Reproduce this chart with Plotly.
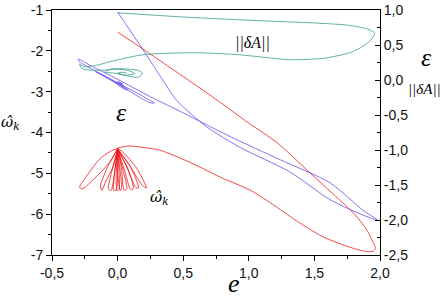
import plotly.graph_objects as go

# ---------------- data ----------------
# omega_k (left axis) main trajectory
red_e = [0.0, 0.2, 0.4, 0.6, 0.76, 1.0, 1.22, 1.45, 1.62, 1.80, 1.90, 1.95, 1.965, 1.95,
         1.90, 1.77, 1.57, 1.39, 1.20, 1.01, 0.80, 0.63, 0.48, 0.32, 0.18, 0.08, 0.0]
red_w = [-1.54, -1.97, -2.41, -2.85, -3.21, -3.77, -4.26, -4.94, -5.44, -5.98, -6.39, -6.71, -6.82, -6.90,
         -6.92, -6.81, -6.56, -6.22, -5.80, -5.41, -5.12, -4.85, -4.63, -4.43, -4.36, -4.33, -4.38]

# omega_k fan of loops from the apex
fan_e = [0.0, -0.13, -0.23, -0.29, -0.27, -0.19, -0.06, 0.0,
         -0.07, -0.13, -0.12, -0.09, -0.03, 0.0,
         -0.04, -0.07, -0.05, -0.02, 0.0,
         -0.02, -0.03, -0.01, 0.0,
         -0.01, -0.005, 0.01, 0.0,
         0.0, 0.02, 0.03, 0.0,
         0.03, 0.05, 0.07, 0.04, 0.0,
         0.05, 0.10, 0.12, 0.08, 0.0,
         0.07, 0.14, 0.16, 0.10, 0.0,
         0.09, 0.19, 0.22, 0.14, 0.0]
fan_w = [-4.40, -4.63, -5.04, -5.34, -5.38, -5.17, -4.73, -4.40,
         -4.80, -5.30, -5.42, -5.20, -4.80, -4.40,
         -4.90, -5.38, -5.42, -4.90, -4.40,
         -4.90, -5.42, -5.40, -4.40,
         -4.90, -5.42, -5.40, -4.40,
         -5.00, -5.42, -5.35, -4.40,
         -4.90, -5.42, -5.38, -4.90, -4.40,
         -4.90, -5.40, -5.38, -4.90, -4.40,
         -4.85, -5.35, -5.36, -4.85, -4.40,
         -4.80, -5.30, -5.36, -4.85, -4.40]

# epsilon (right axis)
eps_e = [0.0, 0.17, 0.32, 0.45, 0.68, 0.93, 1.31, 1.62, 1.87, 1.98,
         1.87, 1.62, 1.24, 0.86, 0.50, 0.25, 0.0, -0.20, -0.30,
         -0.29, -0.20, 0.0, 0.20, 0.28, 0.24, 0.10, -0.10, -0.17, -0.12,
         0.0, 0.08, 0.05, -0.02, 0.03, 0.05, 0.0, 0.02, 0.04, 0.01, 0.03]
eps_v = [0.97, 0.50, 0.07, -0.29, -0.67, -0.96, -1.31, -1.71, -1.93, -2.00,
         -1.86, -1.47, -1.14, -0.81, -0.47, -0.24, 0.01, 0.20, 0.30,
         0.26, 0.16, -0.04, -0.24, -0.33, -0.32, -0.17, 0.06, 0.12, 0.07,
         -0.06, -0.14, -0.13, -0.03, -0.07, -0.09, -0.02, -0.04, -0.06, -0.03, -0.05]

# ||dA|| (right axis)
da_e = [0.0, 0.5, 0.93, 1.31, 1.55, 1.77, 1.90, 1.96, 1.93, 1.85, 1.77, 1.57, 1.31,
        0.93, 0.58, 0.19, -0.06, -0.16, -0.26, -0.29, -0.27, -0.11, 0.02, 0.15, 0.19,
        0.16, 0.07, -0.03, -0.10, -0.04, 0.09, 0.13, 0.06, 0.0, 0.04, 0.07]
da_v = [0.96, 0.90, 0.86, 0.83, 0.81, 0.78, 0.73, 0.67, 0.57, 0.46, 0.39, 0.31, 0.29,
        0.36, 0.39, 0.36, 0.26, 0.21, 0.19, 0.23, 0.16, 0.14, 0.16, 0.14, 0.10,
        0.04, 0.06, 0.10, 0.11, 0.16, 0.13, 0.09, 0.07, 0.10, 0.11, 0.10]

x_tick_vals = [-0.5, 0.0, 0.5, 1.0, 1.5, 2.0]
x_tick_text = ["-0,5", "0,0", "0,5", "1,0", "1,5", "2,0"]
yl_tick_vals = [-1, -2, -3, -4, -5, -6, -7]
yl_tick_text = ["-1", "-2", "-3", "-4", "-5", "-6", "-7"]
yr_tick_vals = [1.0, 0.5, 0.0, -0.5, -1.0, -1.5, -2.0, -2.5]
yr_tick_text = ["1,0", "0,5", "0,0", "-0,5", "-1,0", "-1,5", "-2,0", "-2,5"]

# ---------------- figure ----------------
RED = "#f01818"
BLUE = "#6a4cf0"
TEAL = "#3a9a90"
sp = dict(shape="spline", smoothing=0.7)

fig = go.Figure()
fig.add_trace(go.Scatter(x=red_e, y=red_w, mode="lines", line=dict(color=RED, width=0.8, **sp),
                         yaxis="y", showlegend=False))
fig.add_trace(go.Scatter(x=fan_e, y=fan_w, mode="lines", line=dict(color=RED, width=0.8, **sp),
                         yaxis="y", showlegend=False))
fig.add_trace(go.Scatter(x=eps_e, y=eps_v, mode="lines", line=dict(color=BLUE, width=0.8, **sp),
                         yaxis="y2", showlegend=False))
fig.add_trace(go.Scatter(x=da_e, y=da_v, mode="lines", line=dict(color=TEAL, width=0.8, **sp),
                         yaxis="y2", showlegend=False))

tickfont = dict(family="Liberation Sans, Arial", size=14, color="#111")
serif = "Liberation Serif, Times New Roman, serif"
dserif = "DejaVu Serif, serif"

fig.update_layout(
    width=444, height=296,
    margin=dict(l=52, r=64, t=10, b=41, autoexpand=False),
    paper_bgcolor="white", plot_bgcolor="white",
    xaxis=dict(range=[-0.5, 2.0], tickvals=x_tick_vals, ticktext=x_tick_text, automargin=False,
               showgrid=False, zeroline=False, showline=True, linecolor="black", linewidth=1,
               mirror=True, ticks="outside", ticklen=5, tickcolor="black", tickfont=tickfont,
               minor=dict(ticks="outside", ticklen=3, dtick=0.25, tick0=-0.5, tickcolor="black")),
    yaxis=dict(range=[-7, -1], tickvals=yl_tick_vals, ticktext=yl_tick_text, automargin=False,
               showgrid=False, zeroline=False, showline=True, linecolor="black", linewidth=1,
               ticks="outside", ticklen=5, tickcolor="black", tickfont=tickfont,
               minor=dict(ticks="outside", ticklen=3, dtick=0.5, tick0=-7, tickcolor="black")),
    yaxis2=dict(range=[-2.5, 1.0], tickvals=yr_tick_vals, ticktext=yr_tick_text, automargin=False,
                overlaying="y", side="right", anchor="x",
                showgrid=False, zeroline=False, showline=True, linecolor="black", linewidth=1,
                ticks="inside", ticklen=5, tickcolor="black", tickfont=tickfont,
                minor=dict(ticks="inside", ticklen=3, dtick=0.25, tick0=-2.5, tickcolor="black")),
)

ann = [
    dict(x=1.03, y=-1.81, xref="x", yref="y", text="<i>||δA||</i>", font=dict(family=serif, size=16, color="black")),
    dict(x=0.03, y=-3.52, xref="x", yref="y", text="<i>ε</i>", font=dict(family=serif, size=26, color="black")),
    dict(x=0.32, y=-5.58, xref="x", yref="y", text="<i>ω̂</i><sub><i>k</i></sub>", font=dict(family=dserif, size=15, color="black")),
    dict(x=-0.128, y=0.539, xref="paper", yref="paper", text="<i>ω̂</i><sub><i>k</i></sub>", font=dict(family=dserif, size=15, color="black")),
    dict(x=0.555, y=-0.183, xref="paper", yref="paper", text="<i>e</i>", yanchor="bottom",
         font=dict(family=serif, size=26, color="black")),
    dict(x=1.143, y=0.808, xref="paper", yref="paper", text="<i>ε</i>", font=dict(family=serif, size=26, color="black")),
    dict(x=1.137, y=0.678, xref="paper", yref="paper", text="<i>||δA||</i>", font=dict(family=serif, size=15, color="black")),
]
for a in ann:
    a.setdefault("yanchor", "middle")
    a.update(showarrow=False, xanchor="center")
fig.update_layout(annotations=ann)

fig.write_html("out.html", config={"displayModeBar": False},
               post_script="document.body.style.margin='0';document.body.style.overflow='hidden';")
